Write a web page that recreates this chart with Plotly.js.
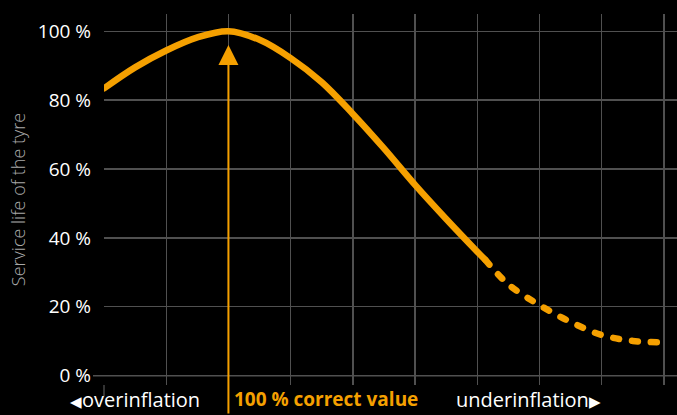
<!DOCTYPE html>
<html>
<head>
<meta charset="utf-8">
<script src="https://cdn.plot.ly/plotly-3.0.1.min.js"></script>
<style>
html,body{margin:0;padding:0;background:#000;}
#chart{width:677px;height:415px;}
.scatterlayer .js-line{stroke-linecap:round;}
</style>
</head>
<body>
<div id="chart"></div>
<script>
// Pressure positions (grid steps) and service life (%)
const solidX = [0, 0.5, 1, 1.5, 2, 2.5, 3, 3.5, 4, 4.5, 5, 5.5, 6, 6.13];
const solidY = [83.4, 89.5, 94.4, 98.2, 100, 97.5, 92.2, 85.2, 76.0, 66.0, 55.4, 45.5, 36, 33.6];
const dashX = [6.13, 6.5, 7, 7.5, 8, 8.5, 9];
const dashY = [33.6, 26.5, 20.5, 15.6, 11.8, 10.1, 9.7];
const yTicks = [0, 20, 40, 60, 80, 100];
const yTickText = ['0 %', '20 %', '40 %', '60 %', '80 %', '100 %'];
const xGrid = [0, 1, 2, 3, 4, 5, 6, 7, 8, 9];
const peakX = 2;
const labels = {
  over: 'overinflation',
  correct: '100 % correct value',
  under: 'underinflation',
  yTitle: 'Service life of the tyre'
};

const orange = '#F5A000';
const grid = '#505050';

const traces = [
  {x: solidX, y: solidY, mode: 'lines', line: {color: orange, width: 6.5, shape: 'spline', smoothing: 1}, hoverinfo: 'skip'},
  {x: dashX, y: dashY, mode: 'lines', line: {color: orange, width: 6.5, shape: 'spline', smoothing: 1, dash: '6px,13px'}, hoverinfo: 'skip'}
];

const layout = {
  width: 677, height: 415,
  margin: {l: 104, r: 0, t: 14, b: 30},
  paper_bgcolor: '#000', plot_bgcolor: '#000',
  showlegend: false,
  font: {family: 'Open Sans, sans-serif', color: '#fff', size: 18},
  xaxis: {
    range: [0, 9.21], tickvals: xGrid, showticklabels: false,
    showgrid: true, gridcolor: grid, gridwidth: 1.3, zeroline: false, showline: false, ticks: ''
  },
  yaxis: {
    range: [-2.7, 105], tickmode: 'array', tickvals: yTicks, ticktext: yTickText,
    showgrid: true, gridcolor: grid, gridwidth: 1.3, zeroline: false, showline: false, ticks: '',
    ticklabelstandoff: 12,
    tickfont: {size: 19, color: '#fff'},
    title: {text: labels.yTitle, font: {size: 18, color: '#a8a8a8', family: 'Open Sans, sans-serif', weight: 300}, standoff: 7}
  },
  shapes: [
    {type: 'line', xref: 'paper', yref: 'y', x0: -11/573, x1: 1, y0: 0, y1: 0, line: {color: grid, width: 1.5}},
    {type: 'line', xref: 'paper', yref: 'paper', x0: 0, x1: 0, y0: -0.03, y1: 0, line: {color: grid, width: 1.3}}
  ],
  annotations: [
    {x: peakX, y: 96, xref: 'x', yref: 'y', ax: 0, ay: 380, axref: 'pixel', ayref: 'pixel', text: '', showarrow: true,
     arrowhead: 2, arrowsize: 2, arrowwidth: 2, arrowcolor: orange, standoff: 0},
    {x: peakX, y: 0, xref: 'x', yref: 'paper', yshift: -14, xshift: -26, xanchor: 'right', yanchor: 'middle',
     text: '<span style="font-size:15px">◀</span>' + labels.over, showarrow: false, font: {size: 20, color: '#fff'}},
    {x: peakX, y: 0, xref: 'x', yref: 'paper', yshift: -14, xshift: 4, xanchor: 'left', yanchor: 'middle',
     text: '<b>' + labels.correct + '</b>', showarrow: false, font: {size: 19, color: orange}},
    {x: peakX, y: 0, xref: 'x', yref: 'paper', yshift: -14, xshift: 226, xanchor: 'left', yanchor: 'middle',
     text: labels.under + '<span style="font-size:15px">▶</span>', showarrow: false, font: {size: 20, color: '#fff'}}
  ]
};

Plotly.newPlot('chart', traces, layout, {staticPlot: true, displayModeBar: false});
</script>
</body>
</html>
